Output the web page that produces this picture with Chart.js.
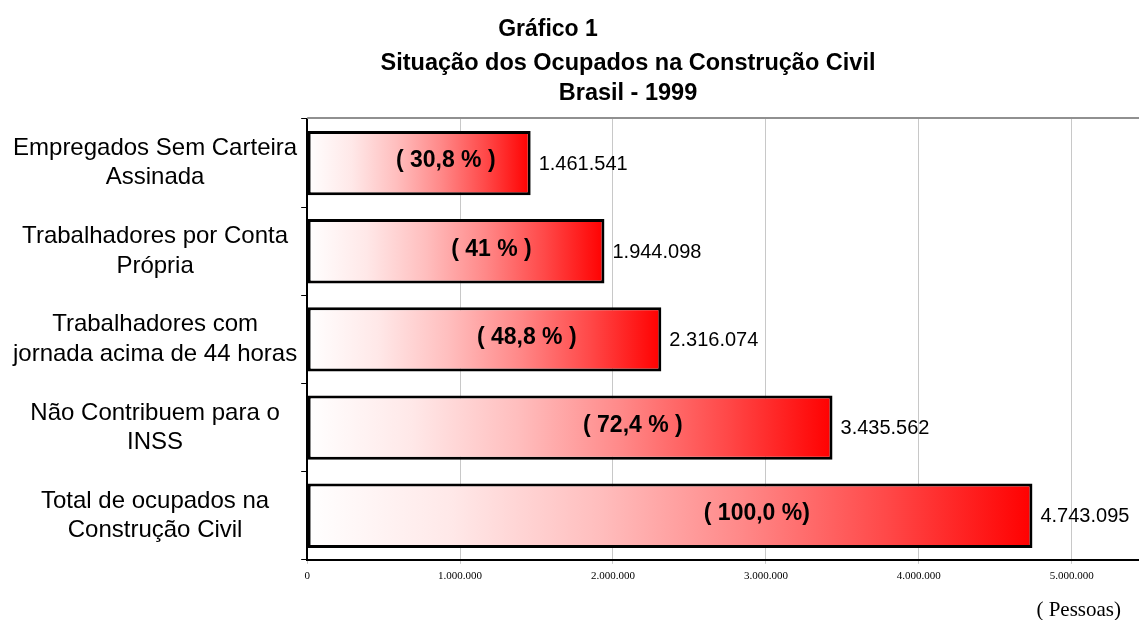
<!DOCTYPE html>
<html>
<head>
<meta charset="utf-8">
<script src="https://cdn.jsdelivr.net/npm/chart.js@4"></script>
<style>
  body { margin: 0; background: #fff; }
  canvas { display: block; }
</style>
</head>
<body>
<canvas id="chart" width="1139" height="620"></canvas>
<script>
// Data
const categories = [
    ['Empregados Sem Carteira', 'Assinada'],
    ['Trabalhadores por Conta', 'Própria'],
    ['Trabalhadores com', 'jornada acima de 44 horas'],
    ['Não Contribuem para o', 'INSS'],
    ['Total de ocupados na', 'Construção Civil']
];
const ocupados = [1461541, 1944098, 2316074, 3435562, 4743095];
const percentLabels = ['( 30,8 % )', '( 41 % )', '( 48,8 % )', '( 72,4 % )', '( 100,0 %)'];
const tickValues = [0, 1000000, 2000000, 3000000, 4000000, 5000000];
const axisMax = 5440000;

const titleLines = ['Gráfico 1', 'Situação dos Ocupados na Construção Civil', 'Brasil - 1999'];
const unitLabel = '( Pessoas)';

function fmt(v) {
    return String(v).replace(/\B(?=(\d{3})+(?!\d))/g, '.');
}

// white -> red, light for the first part of the bar
function barGradient(context) {
    const chart = context.chart;
    if (!chart.chartArea) return '#ff0000';
    const xScale = chart.scales.x;
    const x0 = xScale.getPixelForValue(0);
    const x1 = xScale.getPixelForValue(context.raw);
    const g = chart.ctx.createLinearGradient(x0, 0, x1, 0);
    g.addColorStop(0, '#ffffff');
    g.addColorStop(0.2, '#ffe8e8');
    g.addColorStop(0.4, '#ffbebe');
    g.addColorStop(0.6, '#ff8888');
    g.addColorStop(0.8, '#ff4848');
    g.addColorStop(1, '#ff0000');
    return g;
}

const decorations = {
    id: 'decorations',
    afterDatasetsDraw(chart) {
        const ctx = chart.ctx;
        const area = chart.chartArea;
        const xScale = chart.scales.x;
        const x0 = xScale.getPixelForValue(0);
        ctx.save();

        // gray line on top of the plot
        ctx.strokeStyle = '#909090';
        ctx.lineWidth = 2;
        ctx.beginPath();
        ctx.moveTo(area.left, area.top - 1);
        ctx.lineTo(area.right, area.top - 1);
        ctx.stroke();

        // labels on the bars
        const meta = chart.getDatasetMeta(0);
        meta.data.forEach((bar, i) => {
            ctx.fillStyle = '#000';
            ctx.textBaseline = 'middle';
            ctx.font = 'bold 23px "Liberation Sans", Arial, sans-serif';
            ctx.textAlign = 'center';
            ctx.fillText(percentLabels[i], x0 + (bar.x - x0) * 0.62, bar.y - 2);
            ctx.font = '20px "Liberation Sans", Arial, sans-serif';
            ctx.textAlign = 'left';
            ctx.fillText(fmt(ocupados[i]), bar.x + 8, bar.y + 1);
        });

        // titles
        ctx.textBaseline = 'alphabetic';
        ctx.textAlign = 'center';
        ctx.font = 'bold 23px "Liberation Sans", Arial, sans-serif';
        ctx.fillText(titleLines[0], 548, 36);
        ctx.font = 'bold 23.5px "Liberation Sans", Arial, sans-serif';
        ctx.fillText(titleLines[1], 628, 70);
        ctx.fillText(titleLines[2], 628, 100);

        // unit
        ctx.textAlign = 'right';
        ctx.font = '21px "Liberation Serif", "Times New Roman", serif';
        ctx.fillText(unitLabel, 1121, 616);
        ctx.restore();
    }
};

const ctx = document.getElementById('chart').getContext('2d');
new Chart(ctx, {
    type: 'bar',
    data: {
        labels: categories,
        datasets: [{
            data: ocupados,
            backgroundColor: barGradient,
            borderColor: '#000',
            borderWidth: 3,
            borderSkipped: false,
            categoryPercentage: 1,
            barPercentage: 0.73
        }]
    },
    options: {
        indexAxis: 'y',
        responsive: false,
        animation: false,
        devicePixelRatio: 1,
        layout: { padding: { top: 119, left: 9, right: 0, bottom: 31 } },
        plugins: {
            legend: { display: false },
            tooltip: { enabled: false }
        },
        scales: {
            x: {
                min: 0,
                max: axisMax,
                afterBuildTicks: axis => {
                    axis.ticks = tickValues.map(v => ({ value: v }));
                },
                border: { color: '#000', width: 2 },
                grid: { color: '#c8c8c8', tickLength: 4 },
                ticks: {
                    padding: 6,
                    color: '#000',
                    maxRotation: 0,
                    autoSkip: false,
                    font: { family: '"Liberation Serif", "Times New Roman", serif', size: 11 },
                    callback: v => fmt(v)
                }
            },
            y: {
                border: { color: '#000', width: 2 },
                grid: { drawOnChartArea: false, color: '#000', tickLength: 6, offset: true },
                ticks: {
                    padding: 4,
                    color: '#000',
                    crossAlign: 'center',
                    font: { family: '"Liberation Sans", Arial, sans-serif', size: 24, lineHeight: 1.22 }
                }
            }
        }
    },
    plugins: [decorations]
});
</script>
</body>
</html>
